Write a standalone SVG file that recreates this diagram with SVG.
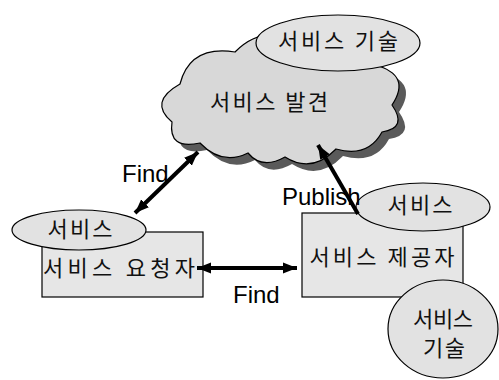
<svg xmlns="http://www.w3.org/2000/svg" width="499" height="380" viewBox="0 0 499 380">
<style>
.kr{font-family:"Noto Sans CJK KR","Noto Sans",sans-serif;font-size:22px;fill:#111;text-anchor:middle}
.lat{font-family:"Liberation Sans",Arial,sans-serif;font-size:24px;fill:#000}
.box{fill:#e6e6e6;stroke:#000;stroke-width:1.2}
.ell{fill:#e2e2e2;stroke:#000;stroke-width:1.2}
.arr{stroke:#000;stroke-width:4;fill:none}
</style>
<defs>
<marker id="ah" markerUnits="userSpaceOnUse" markerWidth="16" markerHeight="14" refX="14" refY="7" orient="auto-start-reverse" viewBox="0 0 16 14">
<path d="M0,1.5 L14,7 L0,12.5 Z" fill="#000"/>
</marker>
<path id="cloudShape" d="M172,122 Q148,102 180,84 Q190,45 235,52 Q265,22 302,44 Q342,28 375,65 Q412,75 392,105 Q408,128 382,132 Q368,158 336,149 Q312,174 285,157 Q262,170 248,153 Q222,166 200,143 Q168,150 172,122 Z"/>
</defs>
<rect width="499" height="380" fill="#fff"/>
<g id="discovery">
<use href="#cloudShape" transform="translate(7,7)" fill="#5a5a5a"/>
<use href="#cloudShape" fill="#d8d8d8" stroke="#000" stroke-width="1.2"/>
<text class="kr" x="269" y="110" textLength="118" lengthAdjust="spacing">서비스 발견</text>
</g>
<g id="discovery-desc">
<ellipse class="ell" cx="338" cy="43" rx="82" ry="28"/>
<text class="kr" x="338" y="49" textLength="120" lengthAdjust="spacing">서비스 기술</text>
</g>
<g id="requester">
<rect class="box" x="42" y="232" width="161" height="65"/>
<text class="kr" x="119" y="276" textLength="152" lengthAdjust="spacing">서비스 요청자</text>
</g>
<g id="requester-service">
<ellipse class="ell" cx="79" cy="230" rx="67" ry="20"/>
<text class="kr" x="80" y="237" textLength="65" lengthAdjust="spacing">서비스</text>
</g>
<g id="provider">
<rect class="box" x="302" y="213" width="161" height="84"/>
<text class="kr" x="382" y="265" textLength="145" lengthAdjust="spacing">서비스 제공자</text>
</g>
<g id="provider-service">
<ellipse class="ell" cx="423" cy="207" rx="67" ry="24"/>
<text class="kr" x="420" y="213" textLength="65" lengthAdjust="spacing">서비스</text>
</g>
<g id="provider-desc">
<ellipse class="ell" cx="443" cy="329" rx="55" ry="49"/>
<text class="kr" x="443" y="327" textLength="60" lengthAdjust="spacing">서비스</text>
<text class="kr" x="444" y="356" textLength="42" lengthAdjust="spacing">기술</text>
</g>
<g id="connectors">
<line class="arr" x1="135" y1="213" x2="198" y2="152" marker-start="url(#ah)" marker-end="url(#ah)"/>
<line class="arr" x1="197" y1="268" x2="297" y2="268" marker-start="url(#ah)" marker-end="url(#ah)"/>
<line class="arr" x1="358" y1="214" x2="318" y2="145" marker-end="url(#ah)"/>
<text class="lat" x="122" y="182">Find</text>
<text class="lat" x="233" y="303">Find</text>
<text class="lat" x="282" y="205">Publish</text>
</g>
</svg>
